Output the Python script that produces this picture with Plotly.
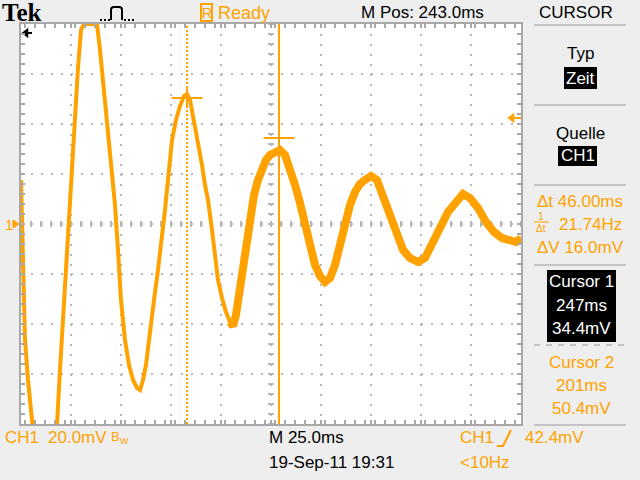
import plotly.graph_objects as go

time_ms = [118.0, 118.5, 119.0, 120.0, 121.5, 123.0, 124.5, 127.5, 130.5, 133.5,
           136.0, 137.5, 139.5, 141.5, 143.0, 145.0, 146.5, 148.0, 149.5, 152.5,
           156.0, 157.5, 159.0, 160.5, 162.0, 163.5, 165.0, 166.5, 168.0, 170.0,
           172.0, 174.0, 176.0, 177.5, 179.0, 180.5, 182.5, 184.5, 186.5, 188.5,
           190.0, 191.5, 193.5, 195.5, 197.5, 199.5, 201.0, 202.5, 204.5, 206.5,
           208.5, 210.0, 211.5, 213.5, 215.0, 216.5, 218.5, 220.5, 222.5, 224.0,
           225.5, 227.5, 229.5, 231.0, 232.5, 234.5, 236.5, 238.5, 240.5, 242.5,
           245.0, 247.5, 250.0, 252.5, 255.0, 257.5, 260.0, 262.5, 265.0, 267.5,
           270.0, 272.5, 275.0, 277.5, 280.0, 282.5, 285.0, 287.5, 290.0, 293.0,
           296.0, 299.0, 302.5, 306.0, 309.0, 312.5, 316.5, 320.0, 323.5, 327.5,
           331.5, 335.5, 339.0, 342.5, 346.5, 350.5, 354.5, 358.5, 362.5, 365.5,
           368.0]
ch1_mv = [17.6, 3.6, -16.4, -46.4, -62.4, -76.4, -86.4, -102.4, -106.4, -98.4,
          -80.0, -58.4, -30.4, -2.4, 17.6, 39.6, 62.4, 77.6, 80.0, 80.0,
          80.0, 69.6, 57.6, 45.6, 33.6, 21.6, 7.6, -10.4, -30.4, -46.4,
          -56.4, -62.4, -65.6, -66.4, -62.4, -56.4, -42.4, -30.4, -18.4, -6.4,
          5.6, 17.6, 33.6, 41.6, 47.2, 51.2, 52.0, 49.6, 41.6, 31.6,
          23.6, 15.6, 9.6, -2.4, -13.6, -22.4, -29.6, -35.2, -39.2, -40.8,
          -36.4, -26.4, -15.2, -6.4, 3.6, 11.6, 17.6, 22.4, 25.6, 27.6,
          28.8, 29.6, 27.6, 22.4, 15.6, 8.4, -0.4, -9.6, -16.4, -20.8,
          -23.2, -21.6, -16.4, -8.4, 0.8, 7.6, 12.8, 16.0, 17.6, 19.2,
          17.6, 11.6, 3.6, -4.4, -10.4, -13.6, -15.2, -13.6, -7.2, -1.6,
          4.8, 8.8, 12.0, 10.4, 6.4, 0.8, -3.2, -5.6, -6.4, -7.2,
          -5.6]

cursor_names = ["Cursor 1", "Cursor 2"]
cursor_time_ms = [247, 201]
cursor_mv = [34.4, 50.4]
trigger_level_mv = 42.4
m_pos_ms = 243.0
time_per_div_ms = 25.0
volts_per_div_mv = 20.0
n_xdiv = 10
n_ydiv = 8

ORANGE = "#ffa200"
GRIDC = "#b8b8b8"
FONT = "Liberation Sans, Arial, sans-serif"

x0 = m_pos_ms - n_xdiv / 2 * time_per_div_ms
x1 = m_pos_ms + n_xdiv / 2 * time_per_div_ms
y0 = -n_ydiv / 2 * volts_per_div_mv
y1 = n_ydiv / 2 * volts_per_div_mv

# plot area in pixels: left 21, right 521, top 24, bottom 424
L, R, T, B = 21, 521, 24, 424


def px(X):
    return (X - L) / (R - L)


def py(Y):
    return (B - Y) / (B - T)


fig = go.Figure()

# waveform (thin part and noisy part)
split = 222.0
fig.add_trace(go.Scatter(x=time_ms, y=ch1_mv, mode="lines",
                         line=dict(color=ORANGE, width=4), hoverinfo="skip"))
tx = [t for t in time_ms if t >= split]
vy = [v for t, v in zip(time_ms, ch1_mv) if t >= split]
fig.add_trace(go.Scatter(x=tx, y=vy, mode="lines",
                         line=dict(color=ORANGE, width=8), hoverinfo="skip"))

# cursor markers
fig.add_trace(go.Scatter(x=cursor_time_ms, y=cursor_mv, mode="markers",
                         marker=dict(symbol="line-ew", size=22,
                                     line=dict(color=ORANGE, width=2)),
                         hoverinfo="skip"))
fig.add_trace(go.Scatter(x=cursor_time_ms[1:], y=cursor_mv[1:], mode="markers",
                         marker=dict(symbol="line-ns", size=14,
                                     line=dict(color=ORANGE, width=2)),
                         hoverinfo="skip"))

# trigger level arrow (right edge)
dx = time_per_div_ms / 50.0  # ms per pixel
fig.add_trace(go.Scatter(x=[x1 - 11 * dx, x1], y=[trigger_level_mv] * 2, mode="lines",
                         line=dict(color=ORANGE, width=2), hoverinfo="skip", cliponaxis=False))
fig.add_trace(go.Scatter(x=[x1 - 9 * dx], y=[trigger_level_mv], mode="markers",
                         marker=dict(symbol="triangle-left", size=9, color=ORANGE),
                         hoverinfo="skip", cliponaxis=False))
# trigger position (off-screen left) indicator
dy = volts_per_div_mv / 50.0
fig.add_trace(go.Scatter(x=[x0 + 3 * dx, x0 + 11 * dx], y=[y1 - 9 * dy] * 2, mode="lines",
                         line=dict(color="black", width=2), hoverinfo="skip"))
fig.add_trace(go.Scatter(x=[x0 + 5 * dx], y=[y1 - 9 * dy], mode="markers",
                         marker=dict(symbol="triangle-left", size=9, color="black"),
                         hoverinfo="skip"))

shapes = []
# cursor vertical lines
shapes.append(dict(type="line", xref="x", yref="paper", x0=cursor_time_ms[0], x1=cursor_time_ms[0],
                   y0=0, y1=1, line=dict(color=ORANGE, width=2)))
shapes.append(dict(type="line", xref="x", yref="paper", x0=cursor_time_ms[1], x1=cursor_time_ms[1],
                   y0=0, y1=1, line=dict(color=ORANGE, width=2, dash="2px,2px")))

# centre cross tick marks
nv = int(round((y1 - y0) / (volts_per_div_mv / 5)))
for i in range(nv + 1):
    v = y0 + i * volts_per_div_mv / 5
    shapes.append(dict(type="line", xref="x", yref="y", x0=m_pos_ms - 3 * dx, x1=m_pos_ms + 3 * dx,
                       y0=v, y1=v, line=dict(color=GRIDC, width=2), layer="below"))
nt = int(round((x1 - x0) / (time_per_div_ms / 5)))
for i in range(nt + 1):
    t = x0 + i * time_per_div_ms / 5
    shapes.append(dict(type="line", xref="x", yref="y", x0=t, x1=t,
                       y0=-3 * dy, y1=3 * dy, line=dict(color=GRIDC, width=2), layer="below"))


def hline(Y, Xa, Xb, color="#c4c4c4", width=2, dash=None):
    ln = dict(color=color, width=width)
    if dash:
        ln["dash"] = dash
    shapes.append(dict(type="line", xref="paper", yref="paper", x0=px(Xa), x1=px(Xb),
                       y0=py(Y), y1=py(Y), line=ln))


def box(Xa, Ya, Xb, Yb, fill="black", line=None):
    shapes.append(dict(type="rect", xref="paper", yref="paper", x0=px(Xa), x1=px(Xb),
                       y0=py(Yb), y1=py(Ya), fillcolor=fill,
                       line=line if line else dict(width=0)))


# right panel separators
hline(25, 534, 626)
hline(105, 534, 626)
hline(185, 534, 626)
hline(265, 534, 626)
hline(345, 534, 626, dash="6px,6px")
hline(425, 534, 626)
# black boxes
box(564, 67, 597, 89)
box(558, 146, 597, 166)
box(547, 270, 616, 342)
# R box
box(201, 4, 212, 21, fill="rgba(0,0,0,0)", line=dict(color=ORANGE, width=2))
# 1/dt fraction bar
hline(222, 534, 549, color=ORANGE, width=1)

# ground marker (left of the screen, at 0 V)
g_y = py(B - (0 - y0) / (y1 - y0) * (B - T))
tri = "M {},{} L {},{} L {},{} Z".format(px(13), g_y + 4 / (B - T), px(19), g_y,
                                          px(13), g_y - 4 / (B - T))
shapes.append(dict(type="path", xref="paper", yref="paper", path=tri,
                   fillcolor=ORANGE, line=dict(color=ORANGE, width=1)))

# trigger pulse icon
pulse = "M {},{} L {},{} Q {},{} {},{} L {},{} Q {},{} {},{} L {},{}".format(
    px(111), py(20), px(111), py(10), px(111), py(7), px(114), py(7),
    px(119), py(7), px(122), py(7), px(122), py(10), px(122), py(20))
shapes.append(dict(type="path", xref="paper", yref="paper", path=pulse,
                   line=dict(color="black", width=2)))
hline(20, 100, 110, color="black", width=2, dash="2px,2px")
hline(20, 124, 135, color="black", width=2, dash="2px,2px")
# trigger slope icon (bottom)
slope = "M {},{} L {},{} L {},{}".format(px(497), py(446), px(503), py(446), px(511), py(430))
shapes.append(dict(type="path", xref="paper", yref="paper", path=slope,
                   line=dict(color=ORANGE, width=2)))

annotations = []


def txt(s, X, Y, color="black", size=16, anchor="center", family=FONT):
    annotations.append(dict(text=s, x=px(X), y=py(Y), xref="paper", yref="paper",
                            xanchor=anchor, yanchor="middle", showarrow=False,
                            font=dict(color=color, size=size, family=family)))


txt("<b>Tek</b>", 0, 13, size=25, anchor="left", family="Liberation Serif, Times New Roman, serif")
txt("R", 206.5, 13, color=ORANGE, size=14)
txt("Ready", 216, 13, color=ORANGE, size=18, anchor="left")
txt("M Pos: %.1fms" % m_pos_ms, 422, 13, size=17)
txt("CURSOR", 576, 13, size=17)

txt("Typ", 580, 53, size=17)
txt("Zeit", 580, 78, color="white", size=17)
txt("Quelle", 580, 133, size=17)
txt("CH1", 578, 156, color="white", size=17)

dt = cursor_time_ms[0] - cursor_time_ms[1]
dv = cursor_mv[1] - cursor_mv[0]
txt("Δt %.2fms" % dt, 580, 202, color=ORANGE, size=17)
txt("1", 541, 216, color=ORANGE, size=10)
txt("Δt", 541, 229, color=ORANGE, size=10)
txt("%.2fHz" % (1000.0 / dt), 590, 225, color=ORANGE, size=17)
txt("ΔV %.1fmV" % dv, 580, 247, color=ORANGE, size=17)

txt(cursor_names[0], 581, 281, color="white", size=17)
txt("%dms" % cursor_time_ms[0], 581, 305, color="white", size=17)
txt("%.1fmV" % cursor_mv[0], 581, 328, color="white", size=17)
txt(cursor_names[1], 581, 362, color=ORANGE, size=17)
txt("%dms" % cursor_time_ms[1], 581, 385, color=ORANGE, size=17)
txt("%.1fmV" % cursor_mv[1], 581, 408, color=ORANGE, size=17)

txt("CH1", 3, 438, color=ORANGE, size=17, anchor="left")
txt("%.1fmV" % volts_per_div_mv, 46, 438, color=ORANGE, size=17, anchor="left")
txt("B<sub>W</sub>", 109, 437, color=ORANGE, size=13, anchor="left")
txt("M %.1fms" % time_per_div_ms, 267, 438, size=17, anchor="left")
txt("19-Sep-11 19:31", 267, 463, size=17, anchor="left")
txt("CH1", 458, 438, color=ORANGE, size=17, anchor="left")
txt("%.1fmV" % trigger_level_mv, 523, 438, color=ORANGE, size=17, anchor="left")
txt("&lt;10Hz", 458, 463, color=ORANGE, size=17, anchor="left")
txt("1", 3, 224, color=ORANGE, size=15, anchor="left")

axis_common = dict(showline=True, linecolor="#a8a8a8", linewidth=2, mirror="allticks",
                   ticks="inside", ticklen=4, tickwidth=2, tickcolor="#a8a8a8",
                   showticklabels=False, zeroline=False, showgrid=True,
                   gridcolor=GRIDC, gridwidth=2, griddash="2px,8px", fixedrange=True)

fig.update_xaxes(range=[x0, x1], tick0=x0, dtick=time_per_div_ms,
                 minor=dict(dtick=time_per_div_ms / 5, ticks="inside", ticklen=4,
                            tickwidth=2, tickcolor="#a8a8a8", showgrid=False),
                 **axis_common)
fig.update_yaxes(range=[y0, y1], tick0=0, dtick=volts_per_div_mv,
                 minor=dict(dtick=volts_per_div_mv / 5, ticks="inside", ticklen=4,
                            tickwidth=2, tickcolor="#a8a8a8", showgrid=False),
                 **axis_common)

fig.update_layout(width=640, height=480, margin=dict(l=L, r=640 - R, t=T, b=480 - B, pad=0),
                  paper_bgcolor="#eeeeee", plot_bgcolor="white", showlegend=False,
                  shapes=shapes, annotations=annotations)

fig.write_html("out.html", config={"displayModeBar": False},
               post_script="document.body.style.margin='0px';")
